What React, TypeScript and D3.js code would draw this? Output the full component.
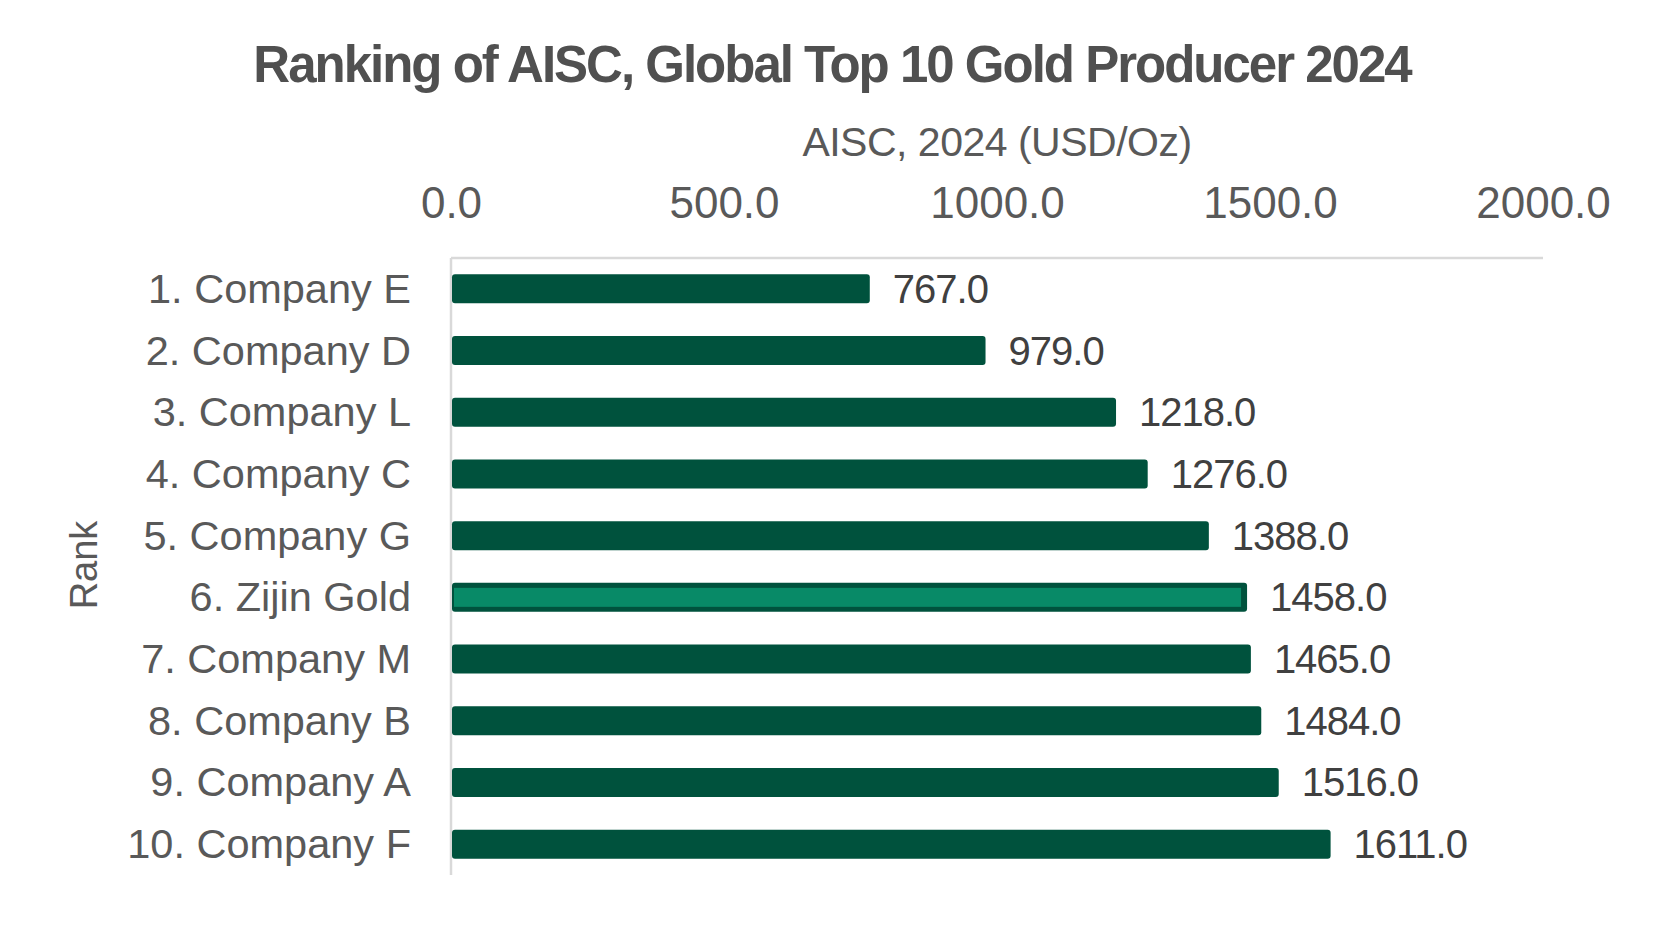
import { useEffect, useRef } from 'react';
import * as d3 from 'd3';

const companies = [
  '1. Company E',
  '2. Company D',
  '3. Company L',
  '4. Company C',
  '5. Company G',
  '6. Zijin Gold',
  '7. Company M',
  '8. Company B',
  '9. Company A',
  '10. Company F',
];
const aisc = [767, 979, 1218, 1276, 1388, 1458, 1465, 1484, 1516, 1611];
const xTicks = [0, 500, 1000, 1500, 2000];
const highlight = '6. Zijin Gold';

type Row = { name: string; value: number };

export default function App() {
  const svgRef = useRef<SVGSVGElement>(null);

  useEffect(() => {
    if (!svgRef.current) return;
    document.body.style.margin = '0';

    const svg = d3.select(svgRef.current);
    svg.selectAll('*').remove();

    const W = 1668;
    const H = 930;
    const margin = { top: 258, right: 125, bottom: 55, left: 451 };
    const width = W - margin.left - margin.right;
    const height = H - margin.top - margin.bottom;

    const font = '"Liberation Sans", Arial, Helvetica, sans-serif';
    const textColor = '#595959';
    const dark = '#00523D';
    const light = '#088A67';

    svg.attr('width', W).attr('height', H).style('font-family', font);

    const data: Row[] = companies.map((name, i) => ({ name, value: aisc[i] }));

    const x = d3.scaleLinear().domain([0, 2000]).range([0, width]);
    const y = d3
      .scaleBand<string>()
      .domain(companies)
      .range([0, height])
      .paddingInner(0.53)
      .paddingOuter(0.265);

    // title
    svg.append('text')
      .attr('x', 832)
      .attr('y', 82)
      .attr('text-anchor', 'middle')
      .style('font-size', '51px')
      .style('font-weight', 700)
      .style('letter-spacing', '-2px')
      .style('fill', '#505050')
      .text('Ranking of AISC, Global Top 10 Gold Producer 2024');

    const g = svg.append('g').attr('transform', `translate(${margin.left},${margin.top})`);

    // x axis title
    g.append('text')
      .attr('x', width / 2)
      .attr('y', 156 - margin.top)
      .attr('text-anchor', 'middle')
      .style('font-size', '41px')
      .style('letter-spacing', '-0.5px')
      .style('fill', textColor)
      .text('AISC, 2024 (USD/Oz)');

    // x axis on top
    const xAxis = d3
      .axisTop(x)
      .tickValues(xTicks)
      .tickSize(0)
      .tickPadding(40)
      .tickFormat(d3.format('.1f') as any);
    const ax = g.append('g').call(xAxis as any);
    ax.select('.domain').remove();
    ax.selectAll('text')
      .attr('dy', 0)
      .style('font-size', '44px')
      .style('font-family', font)
      .style('fill', textColor);

    g.append('line')
      .attr('x1', 0)
      .attr('x2', width)
      .attr('y1', 0)
      .attr('y2', 0)
      .attr('stroke', '#D9D9D9')
      .attr('stroke-width', 2.5);

    g.append('line')
      .attr('x1', 0)
      .attr('x2', 0)
      .attr('y1', 0)
      .attr('y2', height)
      .attr('stroke', '#D9D9D9')
      .attr('stroke-width', 2.5);

    // bars
    const bars = g.selectAll('.bar').data(data).enter().append('g').attr('class', 'bar');

    bars.append('rect')
      .attr('x', 1)
      .attr('y', d => y(d.name) as number)
      .attr('width', d => x(d.value) - 1)
      .attr('height', y.bandwidth())
      .attr('rx', 3)
      .attr('fill', dark);

    bars.filter(d => d.name === highlight)
      .append('rect')
      .attr('x', 3)
      .attr('y', d => (y(d.name) as number) + 5)
      .attr('width', d => x(d.value) - 9)
      .attr('height', y.bandwidth() - 10)
      .attr('fill', light);

    // value labels
    bars.append('text')
      .attr('x', d => x(d.value) + 23)
      .attr('y', d => (y(d.name) as number) + y.bandwidth() / 2 + 14)
      .style('font-size', '40px')
      .style('letter-spacing', '-1px')
      .style('fill', '#404040')
      .text(d => d3.format('.1f')(d.value));

    // category labels
    bars.append('text')
      .attr('x', -40)
      .attr('y', d => (y(d.name) as number) + y.bandwidth() / 2 + 14)
      .attr('text-anchor', 'end')
      .style('font-size', '41.5px')
      .style('fill', textColor)
      .text(d => d.name);

    // y axis title
    svg.append('text')
      .attr('transform', 'translate(97,565) rotate(-90)')
      .attr('text-anchor', 'middle')
      .style('font-size', '38px')
      .style('fill', textColor)
      .text('Rank');
  }, []);

  return <svg ref={svgRef}></svg>;
}
